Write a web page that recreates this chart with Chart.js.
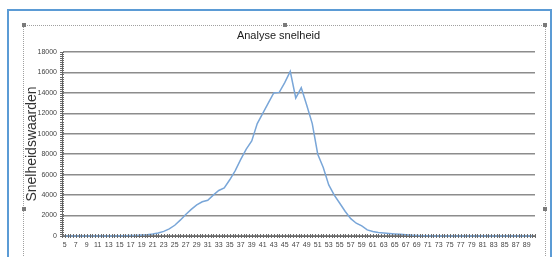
<!DOCTYPE html>
<html><head><meta charset="utf-8">
<script src="https://cdn.jsdelivr.net/npm/chart.js@4/dist/chart.umd.min.js"></script>
<style>
html,body{margin:0;padding:0;background:#fff;width:555px;height:257px;overflow:hidden;}
#frame{position:absolute;left:7px;top:9px;width:541px;height:300px;border:2px solid #5b9bd5;}
#sel{position:absolute;left:23px;top:25px;width:521px;height:365px;border:1px dotted #a0a0a0;}
.h{position:absolute;width:4px;height:4px;background:#7a7a7a;}
canvas{position:absolute;left:0;top:0;}
</style></head><body>
<div id="frame"></div><div id="sel"></div>
<div class="h" style="left:22px;top:23px"></div>
<div class="h" style="left:283px;top:23px"></div>
<div class="h" style="left:543px;top:23px"></div>
<div class="h" style="left:22px;top:207px"></div>
<div class="h" style="left:543px;top:207px"></div>
<canvas id="c" width="555" height="257"></canvas>
<script>
const categories = [5,6,7,8,9,10,11,12,13,14,15,16,17,18,19,20,21,22,23,24,25,26,27,28,29,30,31,32,33,34,35,36,37,38,39,40,41,42,43,44,45,46,47,48,49,50,51,52,53,54,55,56,57,58,59,60,61,62,63,64,65,66,67,68,69,70,71,72,73,74,75,76,77,78,79,80,81,82,83,84,85,86,87,88,89,90];
const snelheid = [
  0,0,0,0,0,0,0,0,5,10,          // 5-14
  15,25,40,60,90,130,190,290,450,700, // 15-24
  1050,1550,2100,2600,3050,3350,3500,4000,4450,4700, // 25-34
  5500,6400,7500,8500,9300,11000,12000,13000,14000,14050, // 35-44
  15000,16100,13500,14500,12800,11000,8000,6700,5000,4000, // 45-54
  3200,2400,1700,1250,1000,600,450,350,290,240, // 55-64
  200,160,120,85,55,35,20,10,5,5, // 65-74
  3,3,2,2,1,1,0,0,0,0,0,0,0,0,0,0 // 75-90
];
const yTicks = [0,2000,4000,6000,8000,10000,12000,14000,16000,18000];
const chartTitle = 'Analyse snelheid';
const yTitle = 'Snelheidswaarden';

const minorTicks = {
  id:'minorTicks',
  afterDatasetsDraw(chart){
    const ctx = chart.ctx, y = chart.scales.y, x = chart.scales.x;
    ctx.save();
    ctx.strokeStyle = '#6a6a6a'; ctx.lineWidth = 1;
    ctx.beginPath();
    for(let v=0; v<=18000; v+=200){
      const py = Math.round(y.getPixelForValue(v))+0.5;
      ctx.moveTo(x.left-2, py); ctx.lineTo(x.left+2, py);
    }
    for(let i=0;i<=categories.length*2;i++){
      const px = Math.round(x.getPixelForValue(i/2-0.5))+0.5;
      ctx.moveTo(px, y.bottom-2); ctx.lineTo(px, y.bottom+2);
    }
    ctx.stroke();
    ctx.restore();
  }
};

new Chart(document.getElementById('c'), {
  type:'line',
  data:{labels:categories, datasets:[{data:snelheid, borderColor:'#79a6d8', borderWidth:1.5, pointRadius:0, tension:0, clip:4, fill:false}]},
  options:{
    responsive:false, animation:false,
    layout:{padding:{left:22, right:20, top:25, bottom:0}},
    plugins:{
      legend:{display:false}, tooltip:{enabled:false},
      title:{display:true, text:chartTitle, color:'#1a1a1a', font:{family:'Liberation Sans', size:11, weight:'normal'}, padding:{top:4.5, bottom:9.3}}
    },
    scales:{
      x:{
        type:'category', offset:true,
        grid:{display:true, drawOnChartArea:false, drawTicks:false},
        border:{display:true, color:'#6a6a6a', width:1},
        ticks:{autoSkip:false, maxRotation:0, minRotation:0, padding:5, color:'#444', font:{family:'Liberation Sans', size:7},
          callback:(v,i)=> i%2===0 ? String(categories[i]) : ''},
        afterFit:(s)=>{s.height = 21;}
      },
      y:{
        min:0, max:18000,
        afterBuildTicks:(s)=>{s.ticks = yTicks.map(v=>({value:v}));},
        grid:{color:'#8c8c8c', lineWidth:1.5, drawTicks:false},
        border:{display:true, color:'#6a6a6a', width:1},
        ticks:{padding:5, color:'#444', font:{family:'Liberation Sans', size:7}, callback:(v)=>String(v)},
        title:{display:true, text:yTitle, color:'#333', font:{family:'Liberation Sans', size:14}, padding:{top:2, bottom:0}},
        afterFit:(s)=>{s.width = 40;}
      }
    }
  },
  plugins:[minorTicks]
});
</script>
</body></html>
